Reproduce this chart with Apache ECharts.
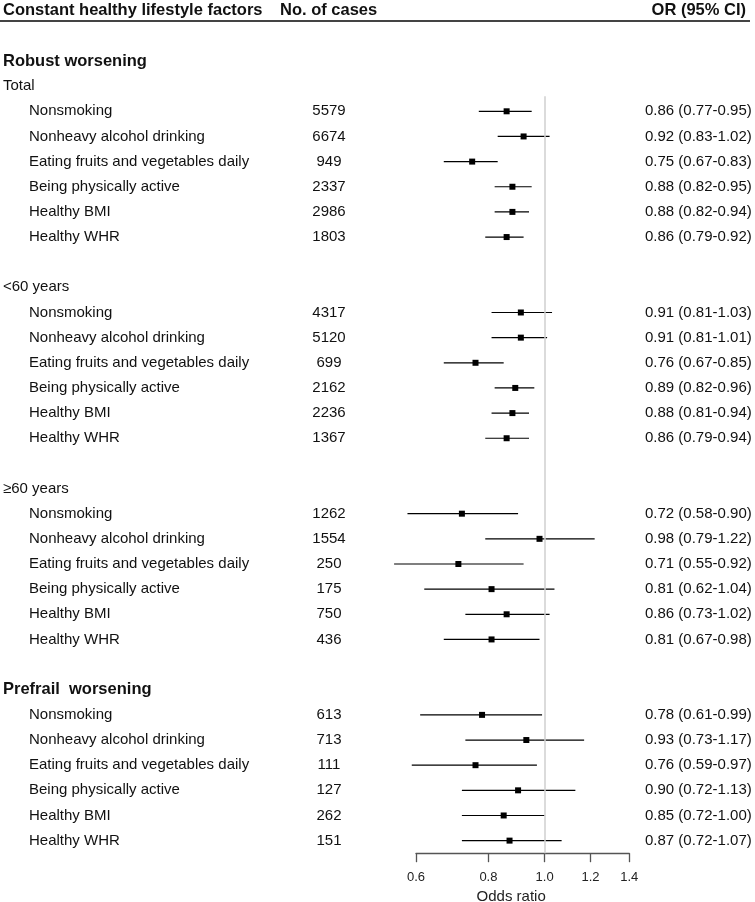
<!DOCTYPE html>
<html>
<head>
<meta charset="utf-8">
<script src="https://cdn.jsdelivr.net/npm/echarts@6/dist/echarts.min.js"></script>
<style>html,body{margin:0;padding:0;background:#fff;}#c{width:755px;height:902px;}</style>
</head>
<body>
<div id="c"></div>
<script>
// ---- data ----
const rowLabels = [
  'Robust worsening', 'Total',
  'Nonsmoking', 'Nonheavy alcohol drinking', 'Eating fruits and vegetables daily', 'Being physically active', 'Healthy BMI', 'Healthy WHR',
  '',
  '<60 years',
  'Nonsmoking', 'Nonheavy alcohol drinking', 'Eating fruits and vegetables daily', 'Being physically active', 'Healthy BMI', 'Healthy WHR',
  '',
  '≥60 years',
  'Nonsmoking', 'Nonheavy alcohol drinking', 'Eating fruits and vegetables daily', 'Being physically active', 'Healthy BMI', 'Healthy WHR',
  '',
  'Prefrail  worsening',
  'Nonsmoking', 'Nonheavy alcohol drinking', 'Eating fruits and vegetables daily', 'Being physically active', 'Healthy BMI', 'Healthy WHR'
];
const rowKinds = [
  'section', 'group',
  'item', 'item', 'item', 'item', 'item', 'item',
  'blank', 'group',
  'item', 'item', 'item', 'item', 'item', 'item',
  'blank', 'group',
  'item', 'item', 'item', 'item', 'item', 'item',
  'blank', 'section',
  'item', 'item', 'item', 'item', 'item', 'item'
];
const cases = [
  null, null,
  5579, 6674, 949, 2337, 2986, 1803,
  null, null,
  4317, 5120, 699, 2162, 2236, 1367,
  null, null,
  1262, 1554, 250, 175, 750, 436,
  null, null,
  613, 713, 111, 127, 262, 151
];
const orValues = [
  null, null,
  0.86, 0.92, 0.75, 0.88, 0.88, 0.86,
  null, null,
  0.91, 0.91, 0.76, 0.89, 0.88, 0.86,
  null, null,
  0.72, 0.98, 0.71, 0.81, 0.86, 0.81,
  null, null,
  0.78, 0.93, 0.76, 0.90, 0.85, 0.87
];
const ciLower = [
  null, null,
  0.77, 0.83, 0.67, 0.82, 0.82, 0.79,
  null, null,
  0.81, 0.81, 0.67, 0.82, 0.81, 0.79,
  null, null,
  0.58, 0.79, 0.55, 0.62, 0.73, 0.67,
  null, null,
  0.61, 0.73, 0.59, 0.72, 0.72, 0.72
];
const ciUpper = [
  null, null,
  0.95, 1.02, 0.83, 0.95, 0.94, 0.92,
  null, null,
  1.03, 1.01, 0.85, 0.96, 0.94, 0.94,
  null, null,
  0.90, 1.22, 0.92, 1.04, 1.02, 0.98,
  null, null,
  0.99, 1.17, 0.97, 1.13, 1.00, 1.07
];
const xTicks = [0.6, 0.8, 1.0, 1.2, 1.4];
const headers = ['Constant healthy lifestyle factors', 'No. of cases', 'OR (95% CI)'];
const axisName = 'Odds ratio';

// ---- chart ----
const FONT = "'Liberation Sans', Arial, sans-serif";
const chart = echarts.init(document.getElementById('c'), null, {renderer: 'canvas'});

const forestData = [];
const textData = [];
rowLabels.forEach((lab, i) => {
  textData.push([0, i]);
  if (orValues[i] != null) {
    forestData.push([Math.log(orValues[i]), i, Math.log(ciLower[i]), Math.log(ciUpper[i])]);
  }
});

const COL_LABEL_SECTION = 3;
const COL_LABEL_ITEM = 29;
const COL_CASES = 329;
const COL_OR = 645;

const option = {
  animation: false,
  backgroundColor: '#fff',
  grid: {left: 416, right: 125.7, top: 35.85, bottom: 48.8, containLabel: false, outerBoundsMode: 'none'},
  xAxis: {
    type: 'value',
    position: 'bottom',
    min: Math.log(0.6),
    max: Math.log(1.4),
    axisLine: {show: true, onZero: false, lineStyle: {color: '#555', width: 1.3}},
    axisTick: {show: true, length: 9, customValues: xTicks.map(Math.log), lineStyle: {color: '#555', width: 1.3}},
    axisLabel: {
      customValues: xTicks.map(Math.log),
      formatter: v => Math.exp(v).toFixed(1),
      fontFamily: FONT, fontSize: 13, color: '#222', margin: 18
    },
    splitLine: {show: false},
    name: axisName,
    nameLocation: 'middle',
    nameGap: 33.5,
    nameTextStyle: {fontFamily: FONT, fontSize: 15, color: '#222', padding: [0, 23, 0, 0]}
  },
  yAxis: {
    type: 'value', inverse: true, min: -1, max: 31.5, show: false
  },
  graphic: [
    {type: 'text', left: 3, top: 2, style: {text: headers[0], font: 'bold 16.5px ' + FONT, fill: '#111'}},
    {type: 'text', left: 280, top: 2, style: {text: headers[1], font: 'bold 16.5px ' + FONT, fill: '#111'}},
    {type: 'text', right: 9, top: 2, style: {text: headers[2], font: 'bold 16.5px ' + FONT, fill: '#111'}},
    {type: 'line', shape: {x1: 0, y1: 21, x2: 750, y2: 21}, style: {stroke: '#444', lineWidth: 2}}
  ],
  series: [
    {
      type: 'custom',
      clip: false,
      silent: true,
      data: forestData,
      encode: {x: [0, 2, 3], y: 1},
      renderItem: (params, api) => {
        const row = api.value(1);
        const p = api.coord([api.value(0), row]);
        const lo = api.coord([api.value(2), row]);
        const hi = api.coord([api.value(3), row]);
        const s = 6;
        return {
          type: 'group',
          children: [
            {type: 'line', shape: {x1: lo[0], y1: p[1], x2: hi[0], y2: p[1]}, style: {stroke: '#000', lineWidth: 1.2}},
            {type: 'rect', shape: {x: p[0] - s / 2, y: p[1] - s / 2, width: s, height: s}, style: {fill: '#000'}}
          ]
        };
      },
      markLine: {
        silent: true,
        symbol: 'none',
        label: {show: false},
        lineStyle: {color: '#cfcfcf', width: 1.5, type: 'solid'},
        data: [[{coord: [0, 1.4]}, {coord: [0, 31.5]}]]
      },
      z: 3
    },
    {
      type: 'custom',
      clip: false,
      silent: true,
      data: textData,
      renderItem: (params, api) => {
        const i = api.value(1);
        const y = api.coord([0, i])[1];
        const kind = rowKinds[i];
        const children = [];
        if (kind === 'section') {
          children.push({type: 'text', x: COL_LABEL_SECTION, y: y, style: {text: rowLabels[i], font: 'bold 16.5px ' + FONT, fill: '#111', align: 'left', verticalAlign: 'middle'}});
        } else if (kind === 'group') {
          children.push({type: 'text', x: COL_LABEL_SECTION, y: y, style: {text: rowLabels[i], font: '15px ' + FONT, fill: '#111', align: 'left', verticalAlign: 'middle'}});
        } else if (kind === 'item') {
          children.push({type: 'text', x: COL_LABEL_ITEM, y: y, style: {text: rowLabels[i], font: '15px ' + FONT, fill: '#111', align: 'left', verticalAlign: 'middle'}});
          children.push({type: 'text', x: COL_CASES, y: y, style: {text: String(cases[i]), font: '15px ' + FONT, fill: '#111', align: 'center', verticalAlign: 'middle'}});
          const t = orValues[i].toFixed(2) + ' (' + ciLower[i].toFixed(2) + '-' + ciUpper[i].toFixed(2) + ')';
          children.push({type: 'text', x: COL_OR, y: y, style: {text: t, font: '15px ' + FONT, fill: '#111', align: 'left', verticalAlign: 'middle'}});
        }
        return {type: 'group', children: children};
      },
      z: 2
    }
  ]
};
chart.setOption(option);
</script>
</body>
</html>
